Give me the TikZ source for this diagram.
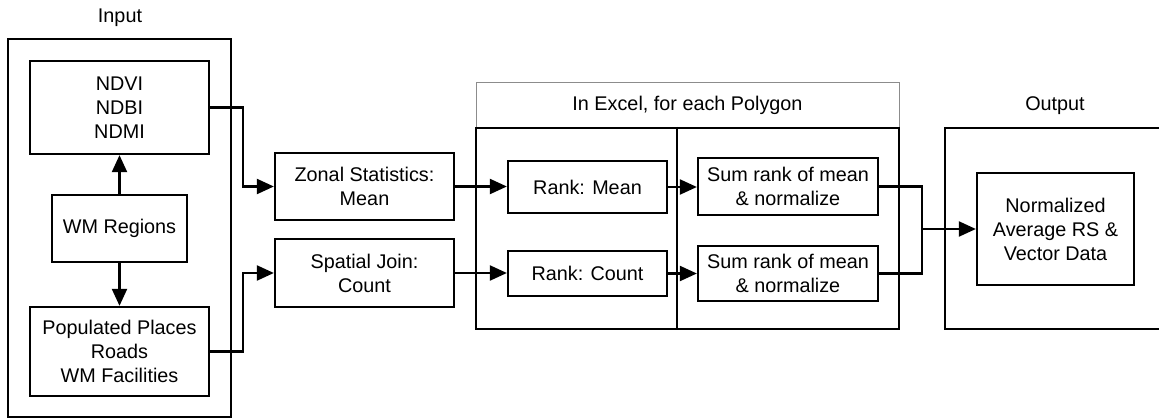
\documentclass[tikz,border=0pt]{standalone}
\usepackage{fontspec}
\setmainfont{Liberation Sans}
\usetikzlibrary{arrows.meta}
\begin{document}
\begin{tikzpicture}[x=1pt,y=-1pt,
  every node/.style={font=\fontsize{19.8}{24}\selectfont},
  box/.style={draw=black,line width=2.3pt,align=center,inner sep=0pt,fill=none},
  frame/.style={draw=black,line width=2pt,inner sep=0pt},
  headbox/.style={draw=black!45,line width=1pt,inner sep=0pt},
  lbl/.style={inner sep=0pt},
  conn/.style={line width=2.2pt},
  arr/.style={conn,-{Triangle[length=17pt,width=15pt]}}]
\useasboundingbox (0,0) rectangle (1159,419);
\clip (0,0) rectangle (1159,419);
% containers
\node[frame,minimum width=223,minimum height=378] (inbox) at (119.5,228) {};
\node[lbl] (inlbl) at (120,18) {Input};
\node[headbox,minimum width=423,minimum height=45] (exhead) at (687.5,105.5) {In Excel, for each Polygon};
\node[frame,minimum width=423,minimum height=201] (exbody) at (687.5,228.5) {};
\draw[line width=1.6pt] (exbody.north -| 677,0) coordinate (dtop) -- (exbody.south -| 677,0) coordinate (dbot);
\node[frame,minimum width=240,minimum height=201,anchor=west] (outbox) at (944,228.5) {};
\node[lbl] (outlbl) at (1055,106) {Output};
% input nodes
\node[box,minimum width=179,minimum height=93] (ndvi) at (119.5,107.5) {NDVI\\NDBI\\NDMI};
\node[box,minimum width=135,minimum height=67] (wmr) at (119.5,228.5) {WM Regions};
\node[box,minimum width=179,minimum height=89] (pop) at (119.5,351.5) {Populated Places\\Roads\\WM Facilities};
% middle
\node[box,minimum width=179,minimum height=67] (zonal) at (364.5,186.5) {Zonal Statistics:\\Mean};
\node[box,minimum width=179,minimum height=68] (spatial) at (364.5,273) {Spatial Join:\\Count};
\node[box,minimum width=159,minimum height=52] (rmean) at (587.5,187) {Rank: Mean};
\node[box,minimum width=159,minimum height=45] (rcount) at (587.5,273.5) {Rank: Count};
\node[box,minimum width=180,minimum height=57] (sum1) at (788,186.5) {Sum rank of mean\\\& normalize};
\node[box,minimum width=180,minimum height=55] (sum2) at (788,273.5) {Sum rank of mean\\\& normalize};
\node[box,minimum width=157,minimum height=112] (norm) at (1055.5,229) {Normalized\\Average RS \&\\Vector Data};
% connectors
\draw[arr] (wmr.north) -- (ndvi.south);
\draw[arr] (wmr.south) -- (pop.north);
\draw[arr] (ndvi.east) -- ++(33,0) |- (zonal.west);
\draw[arr] (pop.east) -- ++(33,0) |- (spatial.west);
\draw[arr] (zonal.east) -- (zonal.east -| rmean.west);
\draw[arr] (spatial.east) -- (spatial.east -| rcount.west);
\draw[arr] (rmean.east) -- (rmean.east -| sum1.west);
\draw[arr] (rcount.east) -- (rcount.east -| sum2.west);
\coordinate (j) at (922,229);
\draw[conn] (sum1.east) -| (j);
\draw[conn] (sum2.east) -| (j);
\draw[arr] (j) -- (norm.west);
\end{tikzpicture}
\end{document}
